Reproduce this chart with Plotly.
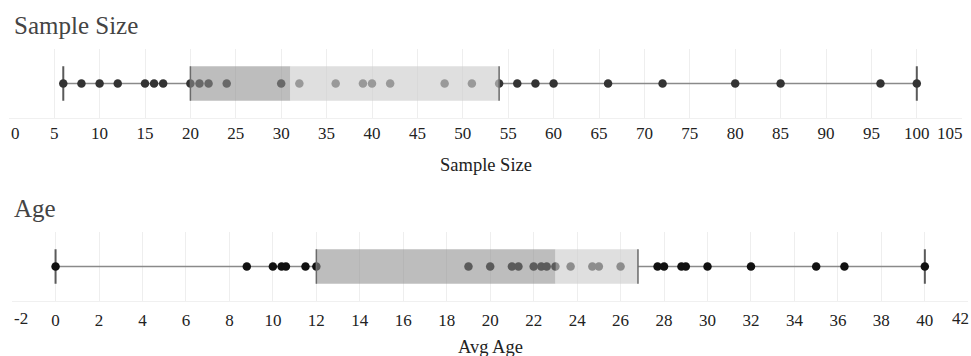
import plotly.graph_objects as go

# ---- data ----
sample_size = [6, 8, 10, 12, 15, 16, 17, 20, 21, 22, 24, 30, 32, 36, 39, 40, 42,
               48, 51, 54, 56, 58, 60, 66, 72, 80, 85, 96, 100]
sample_stats = [6, 20, 31, 54, 100]          # min, q1, median, q3, max
sample_ticks = list(range(0, 106, 5))

avg_age = [0, 8.8, 10, 10.4, 10.6, 11.5, 12, 19, 20, 21, 21.3, 22, 22.35, 22.6, 23,
           23.7, 24.7, 25, 26, 27.7, 28, 28.8, 29, 30, 32, 35, 36.3, 40]
age_stats = [0, 12, 23, 26.8, 40]
age_ticks = list(range(-2, 43, 2))

panels = [
    dict(title="Sample Size", axis_title="Sample Size", values=sample_size,
         stats=sample_stats, ticks=sample_ticks, dot="#333333", standoff=0,
         xdom=[8.8 / 971, 962.2 / 971], ydom=[1 - 118 / 356, 1 - 49 / 356],
         title_y=1 - 25 / 356, tick_y=1 - 133 / 356, axt_y=1 - 165 / 356),
    dict(title="Age", axis_title="Avg Age", values=avg_age,
         stats=age_stats, ticks=age_ticks, dot="#111111", standoff=4,
         xdom=[12.1 / 971, 968.3 / 971], ydom=[1 - 301 / 356, 1 - 232 / 356],
         title_y=1 - 208 / 356, tick_y=1 - 318 / 356, axt_y=1 - 347 / 356),
]

FONT = "Liberation Serif"
TICK_SIZE = 17
fig = go.Figure()
shapes = []
annotations = []

for i, p in enumerate(panels):
    n = "" if i == 0 else str(i + 1)
    xa, ya = "x" + n, "y" + n
    mn, q1, med, q3, mx = p["stats"]

    # whiskers
    fig.add_trace(go.Scatter(x=[mn, q1, None, q3, mx], y=[0, 0, None, 0, 0],
                             mode="lines", line=dict(color="#8a8a8a", width=1.3),
                             hoverinfo="skip", showlegend=False, xaxis=xa, yaxis=ya))
    # end caps
    for v in (mn, mx):
        fig.add_trace(go.Scatter(x=[v, v], y=[-0.5, 0.5], mode="lines",
                                 line=dict(color="#5a5a5a", width=2),
                                 hoverinfo="skip", showlegend=False, xaxis=xa, yaxis=ya))
    # points
    fig.add_trace(go.Scatter(x=p["values"], y=[0] * len(p["values"]), mode="markers",
                             marker=dict(color=p["dot"], size=8.5, line=dict(width=0)),
                             showlegend=False, xaxis=xa, yaxis=ya))

    # boxes (drawn above points)
    shapes.append(dict(type="rect", xref=xa, yref=ya, x0=q1, x1=med, y0=-0.5, y1=0.5,
                       fillcolor="rgba(143,143,143,0.59)", line=dict(width=0), layer="above"))
    shapes.append(dict(type="rect", xref=xa, yref=ya, x0=med, x1=q3, y0=-0.5, y1=0.5,
                       fillcolor="rgba(207,207,207,0.66)", line=dict(width=0), layer="above"))
    for v in (q1, q3):
        shapes.append(dict(type="line", xref=xa, yref=ya, x0=v, x1=v, y0=-0.5, y1=0.5,
                           line=dict(color="#6a6a6a", width=1.5), layer="above"))

    ticks = p["ticks"]
    ticktext = [""] + [str(t) for t in ticks[1:-1]] + [""]
    axis = dict(domain=p["xdom"], range=[ticks[0], ticks[-1]], tickvals=ticks,
                ticktext=ticktext, showgrid=True, gridcolor="#eeeeee", gridwidth=1,
                zeroline=False, showline=True, linecolor="#f0f0f0", linewidth=1,
                ticks="", tickfont=dict(family=FONT, size=TICK_SIZE, color="#222222"),
                ticklabelstandoff=p["standoff"], anchor=ya, fixedrange=True)
    yaxis = dict(domain=p["ydom"], range=[-1, 1], showgrid=False, zeroline=False,
                 showticklabels=False, ticks="", anchor=xa, fixedrange=True)
    fig.layout["xaxis" + n] = axis
    fig.layout["yaxis" + n] = yaxis

    # flush edge tick labels
    annotations.append(dict(text=str(ticks[0]), xref=xa, yref="paper", x=ticks[0],
                            y=p["tick_y"], xanchor="left", yanchor="middle", showarrow=False,
                            font=dict(family=FONT, size=TICK_SIZE, color="#222222")))
    annotations.append(dict(text=str(ticks[-1]), xref=xa, yref="paper", x=ticks[-1],
                            y=p["tick_y"], xanchor="right", yanchor="middle", showarrow=False,
                            xshift=3,
                            font=dict(family=FONT, size=TICK_SIZE, color="#222222")))
    # panel title
    annotations.append(dict(text=p["title"], xref="paper", yref="paper", x=12 / 971,
                            y=p["title_y"], xanchor="left", yanchor="middle", showarrow=False,
                            font=dict(family=FONT, size=25, color="#444444")))
    # axis title
    annotations.append(dict(text=p["axis_title"], xref="paper", yref="paper",
                            x=(p["xdom"][0] + p["xdom"][1]) / 2, y=p["axt_y"],
                            xanchor="center", yanchor="middle", showarrow=False,
                            font=dict(family=FONT, size=18.5, color="#222222")))

fig.update_layout(width=971, height=356, margin=dict(l=0, r=0, t=0, b=0),
                  paper_bgcolor="white", plot_bgcolor="white",
                  shapes=shapes, annotations=annotations, showlegend=False)

fig.write_html("out.html", config={"displayModeBar": False},
               post_script="document.body.style.margin='0';document.body.style.padding='0';"
                           "document.body.style.overflow='hidden';")
